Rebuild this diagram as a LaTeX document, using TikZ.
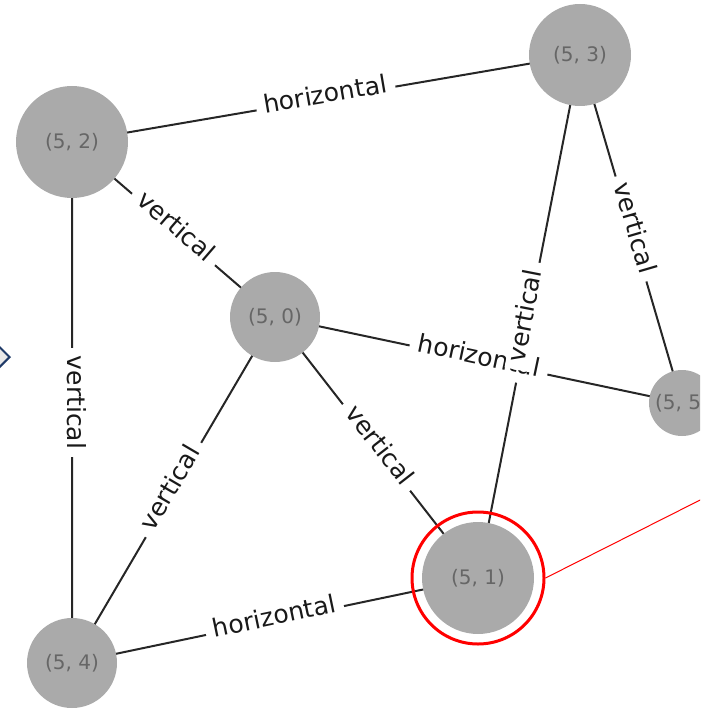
\documentclass[tikz,border=0pt]{standalone}
\usepackage{fontspec}
\setmainfont{DejaVu Sans}
\usetikzlibrary{shapes.geometric,backgrounds}
\definecolor{nodegray}{HTML}{AAAAAA}
\definecolor{labelgray}{HTML}{666666}
\definecolor{markblue}{HTML}{1F3A68}
\definecolor{markfill}{HTML}{E8E8E8}
\newcommand{\px}{0.75pt}

\begin{document}
\begin{tikzpicture}[x=0.75pt,y=-0.75pt,
vtx/.style={circle,fill=nodegray,text=labelgray,inner sep=0pt,font=\fontsize{15}{18}\selectfont},
edge/.style={draw=black!85,line width=1.5pt},
elabel/.style={fill=white,text=black!90,sloped,midway,inner xsep=6pt,inner ysep=5pt,
	text height=0.9em,text depth=0.25em,font=\fontsize{18.75}{22}\selectfont}]
\useasboundingbox (0,0) rectangle (700,709);
\clip (0,0) rectangle (700,709);

%grid nodes, sized as in the layout
\node[vtx,minimum size=112*\px](n2) at (72,142) {(5, 2)};
\node[vtx,minimum size=102*\px](n3) at (580,55) {(5, 3)};
\node[vtx,minimum size=90*\px](n0) at (275,317) {(5, 0)};
\node[vtx,minimum size=66*\px](n5) at (682,403) {(5, 5)};
\node[vtx,minimum size=112*\px](n1) at (478,578) {(5, 1)};
\node[vtx,minimum size=90*\px](n4) at (72,663) {(5, 4)};

%edges center to center, labels at the middle
\begin{scope}[on background layer]
\draw[edge] (n2.center) -- node[elabel]{horizontal} (n3.center)
	(n2.center) -- node[elabel]{vertical} (n0.center)
	(n2.center) -- node[elabel]{vertical} (n4.center)
	(n3.center) -- node[elabel]{vertical} (n5.center)
	(n0.center) -- node[elabel]{horizontal} (n5.center)
	(n3.center) -- node[elabel]{vertical} (n1.center)
	(n0.center) -- node[elabel]{vertical} (n1.center)
	(n0.center) -- node[elabel]{vertical} (n4.center)
	(n4.center) -- node[elabel]{horizontal} (n1.center);
\end{scope}

%highlight ring and its pointer
\node[circle,draw=red,line width=2.25pt,minimum size=132*\px,inner sep=0pt](ring) at (n1) {};
\coordinate(tail) at (720,490);
\draw[red,line width=0.75pt] (ring.east) -- (tail);

%marker cut by the left border
\node[diamond,draw=markblue,fill=markfill,line width=1.5pt,minimum size=28*\px,inner sep=0pt](mark) at (-4,357) {};
\end{tikzpicture}
\end{document}
